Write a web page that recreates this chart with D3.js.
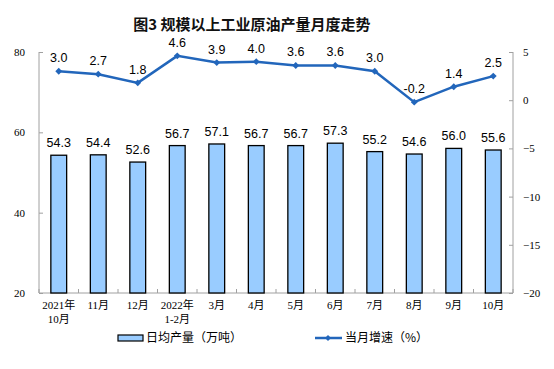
<!DOCTYPE html>
<html><head><meta charset="utf-8">
<script src="https://cdn.jsdelivr.net/npm/d3@7/dist/d3.min.js"></script>
<style>body{margin:0;background:#fff}</style>
</head><body>
<svg id="c" width="554" height="369"></svg>
<script>
const categories = [["2021年","10月"],["11月"],["12月"],["2022年","1-2月"],["3月"],["4月"],["5月"],["6月"],["7月"],["8月"],["9月"],["10月"]];
const output = [54.3,54.4,52.6,56.7,57.1,56.7,56.7,57.3,55.2,54.6,56.0,55.6];
const growth = [3.0,2.7,1.8,4.6,3.9,4.0,3.6,3.6,3.0,-0.2,1.4,2.5];
const leftTicks = [20,40,60,80];
const rightTicks = [-20,-15,-10,-5,0,5];

const svg = d3.select("#c");
const L = 39, R = 513, T = 52, B = 293;
const x = d3.scaleBand().domain(d3.range(categories.length)).range([L,R]).paddingInner(0.6).paddingOuter(0.3);
const yL = d3.scaleLinear().domain([20,80]).range([B,T]);
const yR = d3.scaleLinear().domain([-20,5]).range([B,T]);
const serif = "'Liberation Serif','Noto Sans CJK SC',serif";
const sans = "'Liberation Sans',Arial,sans-serif";
const cjk = "'Noto Sans CJK SC',sans-serif";
const axisCol = "#a0a0a0";

svg.append("text").attr("x",252).attr("y",30).attr("text-anchor","middle")
  .attr("font-family",cjk).attr("font-size",15).attr("font-weight","bold").attr("fill","#111")
  .text("图3\u00a0规模以上工业原油产量月度走势");

// left axis
const gl = svg.append("g").attr("transform",`translate(${L},0)`)
  .call(d3.axisLeft(yL).tickValues(leftTicks).tickSize(-4).tickPadding(14));
// right axis
const gr = svg.append("g").attr("transform",`translate(${R},0)`)
  .call(d3.axisRight(yR).tickValues(rightTicks).tickSize(-4).tickPadding(10));
[gl,gr].forEach(g=>{
  g.select(".domain").attr("stroke",axisCol).attr("d", `M0,${T}V${B}`);
  g.selectAll(".tick line").attr("stroke",axisCol);
  g.selectAll(".tick text").attr("font-family",serif).attr("font-size",11).attr("fill","#000");
});
// x axis
const step = x.step();
const xb = svg.append("g");
xb.append("line").attr("x1",L).attr("x2",R).attr("y1",B).attr("y2",B).attr("stroke",axisCol);
xb.selectAll("line.t").data(d3.range(categories.length+1)).join("line").attr("class","t")
  .attr("x1",i=>L+i*step).attr("x2",i=>L+i*step).attr("y1",B).attr("y2",B-4).attr("stroke",axisCol);

// bars
svg.append("g").selectAll("rect").data(output).join("rect")
  .attr("x",(d,i)=>x(i)).attr("width",x.bandwidth())
  .attr("y",d=>yL(d)).attr("height",d=>B-yL(d))
  .attr("fill","#99CCFF").attr("stroke","#000").attr("stroke-width",1.3);
svg.append("g").selectAll("text").data(output).join("text")
  .attr("x",(d,i)=>x(i)+x.bandwidth()/2).attr("y",d=>yL(d)-8).attr("text-anchor","middle")
  .attr("font-family",sans).attr("font-size",12.5).attr("fill","#000").text(d=>d.toFixed(1));

// x labels
const xl = svg.append("g").selectAll("text").data(categories).join("text")
  .attr("text-anchor","middle").attr("font-family",serif).attr("font-size",11).attr("fill","#000");
xl.each(function(d,i){
  const t = d3.select(this);
  d.forEach((s,j)=>t.append("tspan").attr("x",x(i)+x.bandwidth()/2).attr("y",309+j*14).text(s));
});

// line
const cx = i=>x(i)+x.bandwidth()/2;
const lineCol = "#2266BB";
svg.append("path").datum(growth)
  .attr("d",d3.line().x((d,i)=>cx(i)).y(d=>yR(d)))
  .attr("fill","none").attr("stroke",lineCol).attr("stroke-width",2.5);
svg.append("g").selectAll("path").data(growth).join("path")
  .attr("transform",(d,i)=>`translate(${cx(i)},${yR(d)})`)
  .attr("d",d3.symbol(d3.symbolDiamond2,30)).attr("fill",lineCol);
svg.append("g").selectAll("text").data(growth).join("text")
  .attr("x",(d,i)=>cx(i)).attr("y",d=>yR(d)-9).attr("text-anchor","middle")
  .attr("font-family",sans).attr("font-size",12.5).attr("fill","#000").text(d=>d.toFixed(1));

// legend
const lg = svg.append("g");
lg.append("rect").attr("x",118).attr("y",335).attr("width",25).attr("height",6)
  .attr("fill","#99CCFF").attr("stroke","#000").attr("stroke-width",1.2);
lg.append("text").attr("x",146).attr("y",342).attr("font-family",cjk).attr("font-size",12).attr("fill","#000").text("日均产量（万吨）");
lg.append("line").attr("x1",315).attr("x2",342).attr("y1",338).attr("y2",338).attr("stroke",lineCol).attr("stroke-width",2.5);
lg.append("path").attr("transform","translate(328,338)").attr("d",d3.symbol(d3.symbolDiamond2,24)).attr("fill",lineCol);
lg.append("text").attr("x",345).attr("y",342).attr("font-family",cjk).attr("font-size",12).attr("fill","#000").text("当月增速（%）");
</script>
</body></html>
